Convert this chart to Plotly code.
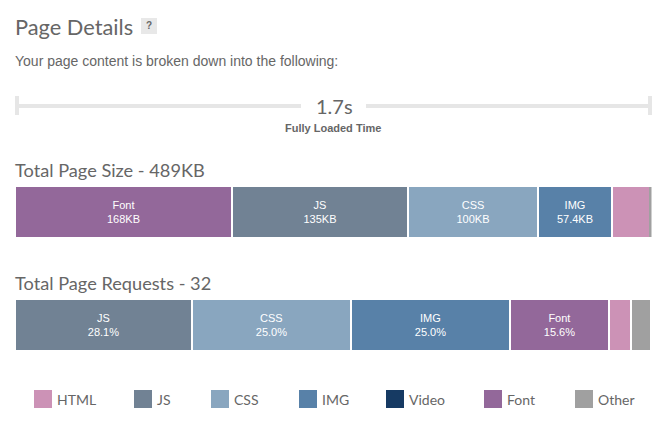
import plotly.graph_objects as go

size_labels = ['Font', 'JS', 'CSS', 'IMG', 'HTML', 'Other']
size_values = [167, 135, 100, 57.4, 28.7, 1.3]
size_text = ['168KB', '135KB', '100KB', '57.4KB', '', '']

request_labels = ['JS', 'CSS', 'IMG', 'Font', 'HTML', 'Other']
request_values = [27.9, 24.9, 25.0, 15.6, 3.4, 3.2]
request_text = ['28.1%', '25.0%', '25.0%', '15.6%', '', '']

legend_labels = ['HTML', 'JS', 'CSS', 'IMG', 'Video', 'Font', 'Other']
legend_x = [43, 143, 220, 308, 395, 493, 584]

colors = {
    'HTML': '#cc92b6',
    'JS': '#718294',
    'CSS': '#89a6bf',
    'IMG': '#5881a8',
    'Video': '#163a63',
    'Font': '#93689a',
    'Other': '#a0a0a0',
}

W = 667
H = 423
HEAD_FONT = 'Lato'
BODY_FONT = 'Liberation Sans'
TEXT_COLOR = '#666666'


def px_x(x):
    return x / W


def px_y(y):
    return 1 - y / H


def add_stack(fig, labels, values, texts, xaxis, yaxis):
    for label, value, text in zip(labels, values, texts):
        thin = value < 2
        fig.add_trace(go.Bar(
            x=[value],
            y=[0],
            base=sum(values[:labels.index(label)]),
            width=0.96 if thin else 1,
            orientation='h',
            name=label,
            xaxis=xaxis,
            yaxis=yaxis,
            marker={'color': colors[label], 'line': {'color': 'white', 'width': 0 if thin else 2}},
            text=label + '<br>' + text if text else '',
            textposition='inside',
            insidetextanchor='middle',
            textangle=0,
            textfont={'family': BODY_FONT, 'size': 11, 'color': 'white'},
            hoverinfo='skip',
            showlegend=False,
        ))


fig = go.Figure()
add_stack(fig, size_labels, size_values, size_text, 'x', 'y')
add_stack(fig, request_labels, request_values, request_text, 'x2', 'y2')

# legend row is drawn on its own axis measured in pixels
fig.add_trace(go.Scatter(
    x=legend_x,
    y=[399] * len(legend_x),
    mode='markers',
    marker={'symbol': 'square', 'size': 18, 'color': [colors[l] for l in legend_labels]},
    xaxis='x3',
    yaxis='y3',
    hoverinfo='skip',
    showlegend=False,
))

annotations = []


def add_text(text, x, y, size, family=HEAD_FONT, color=TEXT_COLOR, anchor='left'):
    annotations.append({
        'text': text, 'x': px_x(x), 'y': px_y(y), 'xref': 'paper', 'yref': 'paper',
        'xanchor': anchor, 'yanchor': 'middle', 'showarrow': False,
        'font': {'family': family, 'size': size, 'color': color},
    })


add_text('Page Details', 13, 27, 21.8)
add_text('<b>?</b>', 149, 26, 10, BODY_FONT, anchor='center')
add_text('Your page content is broken down into the following:', 13, 61, 14, BODY_FONT)
add_text('1.7s', 334, 106, 20, anchor='center')
add_text('<b>Fully Loaded Time</b>', 333, 128, 11, BODY_FONT, anchor='center')
add_text('Total Page Size - 489KB', 13, 170, 18.2)
add_text('Total Page Requests - 32', 13, 283, 18.2)
for label, x in zip(legend_labels, legend_x):
    add_text(label, x + 12, 399.5, 14)


def rect(x0, y0, x1, y1, color):
    return {
        'type': 'rect', 'xref': 'paper', 'yref': 'paper',
        'x0': px_x(x0), 'x1': px_x(x1), 'y0': px_y(y0), 'y1': px_y(y1),
        'fillcolor': color, 'line': {'width': 0}, 'layer': 'below',
    }


GREY = '#e6e6e6'
shapes = [
    rect(141, 18, 157, 34, '#e8e8e8'),
    rect(15, 96, 19, 115, GREY),
    rect(15, 104, 301, 108, GREY),
    rect(366, 104, 652, 108, GREY),
    rect(648, 96, 652, 115, GREY),
]

hidden = {'visible': False, 'fixedrange': True}
fig.update_layout(
    width=W,
    height=H,
    margin={'l': 0, 'r': 0, 't': 0, 'b': 0},
    paper_bgcolor='white',
    plot_bgcolor='rgba(0,0,0,0)',
    barmode='overlay',
    bargap=0,
    annotations=annotations,
    shapes=shapes,
    xaxis={**hidden, 'domain': [px_x(15), px_x(651.5)], 'range': [0, sum(size_values)]},
    yaxis={**hidden, 'domain': [px_y(238), px_y(186)], 'range': [-0.5, 0.5]},
    xaxis2={**hidden, 'domain': [px_x(15), px_x(651)], 'range': [0, sum(request_values)]},
    yaxis2={**hidden, 'domain': [px_y(351), px_y(299)], 'range': [-0.5, 0.5]},
    xaxis3={**hidden, 'domain': [0, 1], 'range': [0, W]},
    yaxis3={**hidden, 'domain': [0, 1], 'range': [H, 0]},
)

fig.write_html('out.html', config={'displayModeBar': False},
               post_script="document.body.style.margin='0';")
